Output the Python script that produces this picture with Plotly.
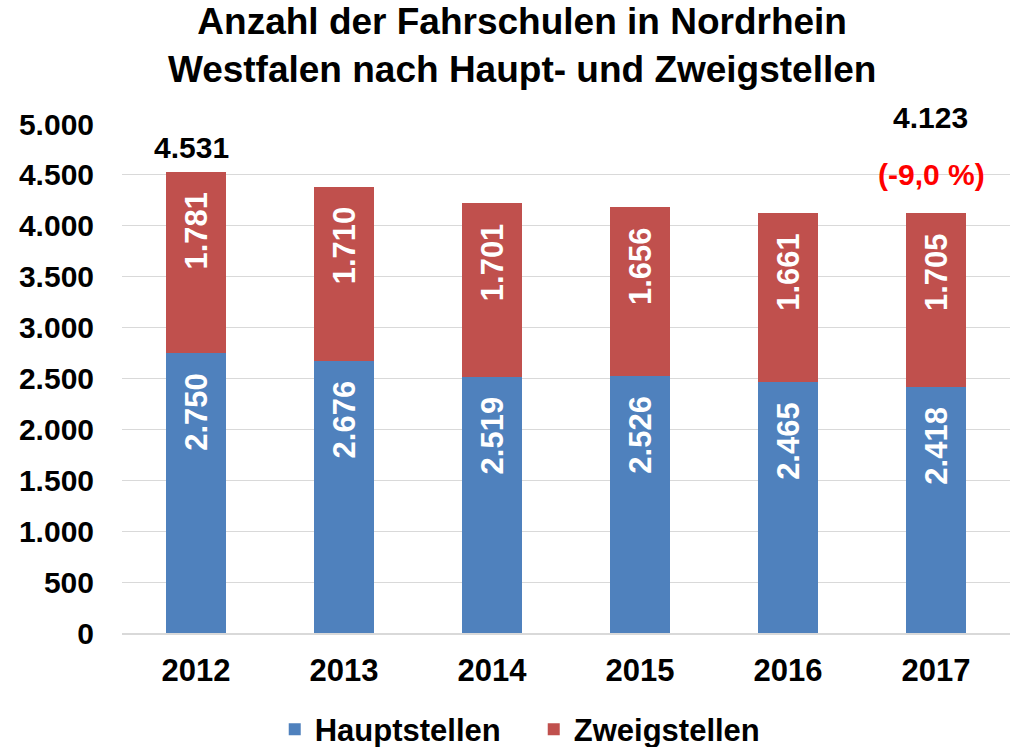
import plotly.graph_objects as go

years = ["2012", "2013", "2014", "2015", "2016", "2017"]
hauptstellen = [2750, 2676, 2519, 2526, 2465, 2418]
zweigstellen = [1781, 1710, 1701, 1656, 1661, 1705]
tick_vals = [0, 500, 1000, 1500, 2000, 2500, 3000, 3500, 4000, 4500, 5000]

BLUE = "#4F81BD"
RED = "#C0504D"
FONT = "Liberation Sans"
NB = "\u00a0\u00a0"

def de(n):
    return f"{n:,}".replace(",", ".")

totals = [h + z for h, z in zip(hauptstellen, zweigstellen)]
change = (totals[-1] / totals[0] - 1) * 100
change_txt = f"({change:.1f} %)".replace(".", ",")

bar_font = dict(family=FONT, size=31, color="white", weight="bold")

fig = go.Figure()
fig.add_trace(go.Bar(
    x=years, y=hauptstellen, name="Hauptstellen", marker_color=BLUE,
    marker_line_width=0,
    text=[de(v) + NB for v in hauptstellen], textposition="inside", textangle=-90,
    insidetextanchor="end", textfont=bar_font, constraintext="none",
))
fig.add_trace(go.Bar(
    x=years, y=zweigstellen, name="Zweigstellen", marker_color=RED,
    marker_line_width=0,
    text=[de(v) + NB for v in zweigstellen], textposition="inside", textangle=-90,
    insidetextanchor="end", textfont=bar_font, constraintext="none",
))

ann_font = dict(family=FONT, size=30, color="black", weight="bold")
fig.add_annotation(x=0, y=totals[0], text=de(totals[0]), showarrow=False,
                   yanchor="middle", yshift=24, xshift=-5, font=ann_font)
fig.add_annotation(x=len(years) - 1, y=totals[-1], text=change_txt, showarrow=False,
                   yanchor="middle", yshift=39, xshift=-5,
                   font=dict(family=FONT, size=30, color="#FF0000", weight="bold"))
fig.add_annotation(x=len(years) - 1, y=totals[-1], text=de(totals[-1]), showarrow=False,
                   yanchor="middle", yshift=96, xshift=-6, font=ann_font)

fig.update_layout(
    barmode="stack",
    bargap=0.6,
    width=1010, height=747,
    margin=dict(l=122, r=0, t=124, b=114, autoexpand=False),
    paper_bgcolor="white", plot_bgcolor="white",
    separators=",.",
    font=dict(family=FONT, size=30, color="black", weight="bold"),
    title=dict(
        text="Anzahl der Fahrschulen in Nordrhein<br>Westfalen nach Haupt- und Zweigstellen",
        x=0.517, xanchor="center", y=0.955, yanchor="middle",
        font=dict(family=FONT, size=37, color="black", weight="bold"),
    ),
    xaxis=dict(
        type="category", categoryorder="array", categoryarray=years,
        range=[-0.5, 5.5], showgrid=False, showline=True, linecolor="#D9D9D9",
        linewidth=2, ticks="outside", ticklen=9, tickcolor="rgba(0,0,0,0)",
        tickfont=dict(size=31, weight="bold"), automargin=False,
    ),
    yaxis=dict(
        range=[0, 5000], tickvals=tick_vals, tickformat=",d",
        showgrid=True, gridcolor="#D9D9D9", gridwidth=1, zeroline=False,
        showline=False, ticks="outside", ticklen=21, tickcolor="rgba(0,0,0,0)",
        tickfont=dict(size=30, weight="bold"), automargin=False,
    ),
    legend=dict(
        orientation="h", x=0.172, xanchor="left", y=-0.19, yanchor="middle",
        font=dict(family=FONT, size=31, color="black", weight="bold"),
        traceorder="normal", entrywidth=214, entrywidthmode="pixels",
    ),
)

fig.write_html("out.html", config={"displayModeBar": False},
               post_script="document.body.style.margin='0';document.body.style.overflow='hidden';")
